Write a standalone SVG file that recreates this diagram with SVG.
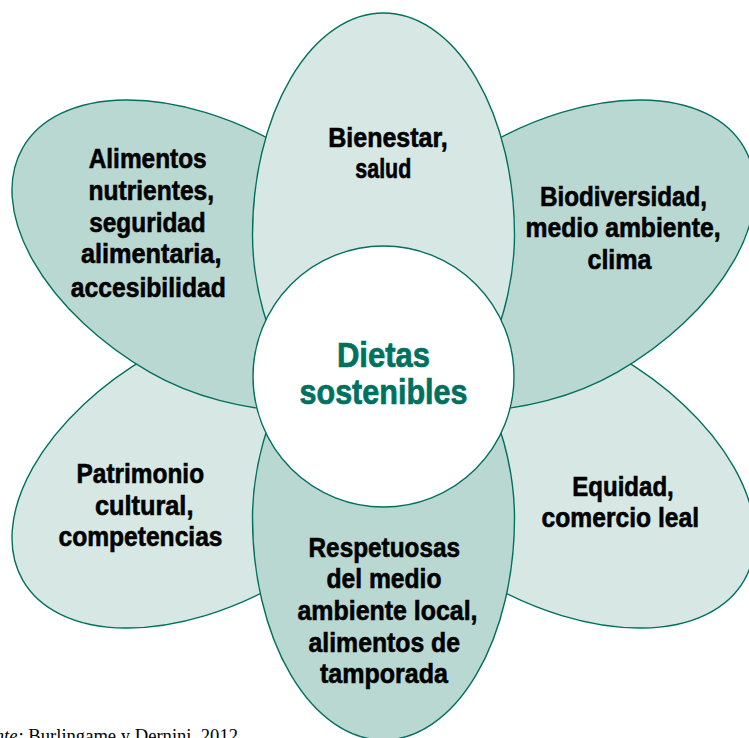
<svg xmlns="http://www.w3.org/2000/svg" width="749" height="738" viewBox="0 0 749 738">
  <style>
    .light { fill: #d7e8e4; stroke: #00705f; stroke-width: 1.4; }
    .dark { fill: #bad8d2; stroke: #00705f; stroke-width: 1.4; }
    .hub { fill: #ffffff; stroke: #00705f; stroke-width: 1.4; }
    .lbl { font-family: "Liberation Sans", Arial, sans-serif; font-weight: bold; font-size: 27.5px; fill: #000000; stroke: #000000; stroke-width: 0.6; text-anchor: middle; }
    .ctr { font-family: "Liberation Sans", Arial, sans-serif; font-weight: bold; font-size: 34.5px; fill: #00705f; stroke: #00705f; stroke-width: 0.7; text-anchor: middle; }
    .src { font-family: "Liberation Serif", "Times New Roman", serif; font-size: 18.6px; fill: #000000; }
  </style>
  <defs>
    <path id="petal" d="M -131 0 A 131 222 0 0 1 131 0 C 131 100 70 210 0 240 C -70 210 -131 100 -131 0 Z"/>
  </defs>
  <rect x="0" y="0" width="749" height="738" fill="#ffffff"/>

  <g id="petal-lower-left">
    <use href="#petal" class="light" transform="translate(215.1,469.3) rotate(-120)"/>
  </g>
  <g id="petal-lower-right">
    <use href="#petal" class="light" transform="translate(551.9,469.3) rotate(120)"/>
  </g>
  <g id="petal-upper-left">
    <use href="#petal" class="dark" transform="translate(215.1,258.7) rotate(-60)"/>
  </g>
  <g id="petal-upper-right">
    <use href="#petal" class="dark" transform="translate(551.9,258.7) rotate(60)"/>
  </g>
  <g id="petal-top">
    <use href="#petal" class="light" transform="translate(383.5,235)"/>
  </g>
  <g id="petal-bottom">
    <use href="#petal" class="dark" transform="translate(383.5,518) rotate(180)"/>
  </g>
  <g id="center">
    <circle class="hub" cx="383.5" cy="376.5" r="130.5"/>
    <text class="ctr" x="383.5" y="367.3" textLength="93" lengthAdjust="spacingAndGlyphs">Dietas</text>
    <text class="ctr" x="383.5" y="404" textLength="168" lengthAdjust="spacingAndGlyphs">sostenibles</text>
  </g>

  <g id="labels">
    <g id="label-top">
      <text class="lbl" x="388" y="146.7" textLength="119.5" lengthAdjust="spacingAndGlyphs">Bienestar,</text>
      <text class="lbl" x="383.3" y="177.7" textLength="56" lengthAdjust="spacingAndGlyphs">salud</text>
    </g>
    <g id="label-upper-left">
      <text class="lbl" x="147.7" y="168.3" textLength="118" lengthAdjust="spacingAndGlyphs">Alimentos</text>
      <text class="lbl" x="151.3" y="200" textLength="125.5" lengthAdjust="spacingAndGlyphs">nutrientes,</text>
      <text class="lbl" x="147.5" y="231.7" textLength="116.5" lengthAdjust="spacingAndGlyphs">seguridad</text>
      <text class="lbl" x="151.2" y="263.3" textLength="140.5" lengthAdjust="spacingAndGlyphs">alimentaria,</text>
      <text class="lbl" x="148.3" y="296.7" textLength="155" lengthAdjust="spacingAndGlyphs">accesibilidad</text>
    </g>
    <g id="label-upper-right">
      <text class="lbl" x="623.5" y="205.7" textLength="167" lengthAdjust="spacingAndGlyphs">Biodiversidad,</text>
      <text class="lbl" x="623" y="236.7" textLength="195" lengthAdjust="spacingAndGlyphs">medio ambiente,</text>
      <text class="lbl" x="619.5" y="269.3" textLength="64" lengthAdjust="spacingAndGlyphs">clima</text>
    </g>
    <g id="label-lower-left">
      <text class="lbl" x="140.3" y="482.7" textLength="127.5" lengthAdjust="spacingAndGlyphs">Patrimonio</text>
      <text class="lbl" x="144.2" y="515" textLength="98.5" lengthAdjust="spacingAndGlyphs">cultural,</text>
      <text class="lbl" x="140.5" y="546" textLength="164" lengthAdjust="spacingAndGlyphs">competencias</text>
    </g>
    <g id="label-lower-right">
      <text class="lbl" x="623" y="496" textLength="101.5" lengthAdjust="spacingAndGlyphs">Equidad,</text>
      <text class="lbl" x="620.3" y="527.3" textLength="157.5" lengthAdjust="spacingAndGlyphs">comercio leal</text>
    </g>
    <g id="label-bottom">
      <text class="lbl" x="384.3" y="556.7" textLength="151.5" lengthAdjust="spacingAndGlyphs">Respetuosas</text>
      <text class="lbl" x="384" y="587.7" textLength="115" lengthAdjust="spacingAndGlyphs">del medio</text>
      <text class="lbl" x="387.5" y="620" textLength="180" lengthAdjust="spacingAndGlyphs">ambiente local,</text>
      <text class="lbl" x="384.3" y="651.7" textLength="151.5" lengthAdjust="spacingAndGlyphs">alimentos de</text>
      <text class="lbl" x="384" y="683.3" textLength="128" lengthAdjust="spacingAndGlyphs">tamporada</text>
    </g>
  </g>

  <g id="connectors"></g>

  <text class="src" x="238" y="742" text-anchor="end"><tspan font-style="italic">Fuente:</tspan> Burlingame y Dernini, 2012</text>
</svg>
